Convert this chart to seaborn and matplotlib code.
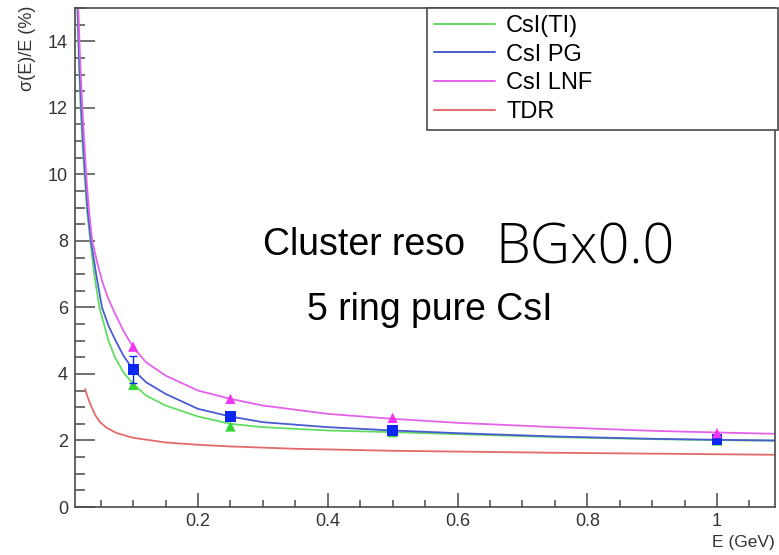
import numpy as np
import pandas as pd
import matplotlib
matplotlib.use("Agg")
import matplotlib.pyplot as plt
from matplotlib.ticker import MultipleLocator, FixedLocator
import seaborn as sns

# --- curve points (E in GeV, resolution in %) ---
lnf_e = [0.0155, 0.018, 0.021, 0.024, 0.028, 0.032, 0.037, 0.044, 0.052, 0.06, 0.07,
         0.085, 0.1, 0.12, 0.15, 0.2, 0.25, 0.3, 0.4, 0.5, 0.6, 0.75, 0.9, 1.0, 1.09]
lnf_v = [15.0, 13.6, 12.3, 11.2, 9.9, 8.9, 8.0, 7.4, 6.8, 6.35, 5.9,
         5.3, 4.8, 4.35, 3.95, 3.5, 3.25, 3.05, 2.8, 2.65, 2.53, 2.4, 2.29, 2.24, 2.2]

pg_e = [0.0145, 0.017, 0.02, 0.023, 0.026, 0.03, 0.035, 0.043, 0.052, 0.062, 0.073,
        0.085, 0.1, 0.12, 0.15, 0.2, 0.25, 0.3, 0.4, 0.5, 0.6, 0.75, 0.9, 1.0, 1.09]
pg_v = [15.0, 13.4, 12.0, 10.9, 10.0, 8.9, 8.0, 7.0, 6.0, 5.45, 5.0,
        4.55, 4.13, 3.75, 3.4, 2.95, 2.72, 2.55, 2.4, 2.3, 2.22, 2.12, 2.05, 2.02, 2.0]

tl_e = [0.014, 0.0165, 0.019, 0.022, 0.025, 0.029, 0.034, 0.04, 0.048, 0.062, 0.072,
        0.085, 0.1, 0.12, 0.15, 0.2, 0.25, 0.3, 0.4, 0.5, 0.6, 0.75, 0.9, 1.0, 1.09]
tl_v = [15.0, 13.3, 12.0, 10.9, 10.0, 8.9, 8.0, 7.0, 6.0, 5.0, 4.5,
        4.05, 3.7, 3.35, 3.05, 2.72, 2.5, 2.4, 2.3, 2.25, 2.19, 2.1, 2.04, 2.01, 1.99]

tdr_e = [0.026, 0.029, 0.033, 0.036, 0.042, 0.049, 0.06, 0.075, 0.1, 0.15, 0.2,
         0.25, 0.35, 0.5, 0.75, 1.09]
tdr_v = [3.55, 3.35, 3.15, 3.0, 2.75, 2.55, 2.37, 2.22, 2.08, 1.94, 1.87,
         1.82, 1.75, 1.69, 1.63, 1.57]

# measured points
pt_e = [0.1, 0.25, 0.5, 1.0]
tl_pts = [3.67, 2.42, 2.25, 2.0]
pg_pts = [4.13, 2.71, 2.29, 2.02]
pg_err = [0.4, 0.08, 0.06, 0.05]
lnf_pts = [4.82, 3.25, 2.68, 2.22]

x_ticks = [0.2, 0.4, 0.6, 0.8, 1.0]
x_labels = ["0.2", "0.4", "0.6", "0.8", "1"]

GREEN, GREEN_M = "#62dc62", "#33d633"
BLUE, BLUE_M = "#4a5ad2", "#0a28f0"
MAG, MAG_M = "#e462ea", "#f036f0"
RED = "#e46a6a"
EDGE = "#4a4a4a"

sns.set_style("white")
plt.rcParams["font.family"] = ["Liberation Sans", "DejaVu Sans"]
plt.rcParams["text.color"] = "black"

fig = plt.figure(figsize=(7.79, 5.55), dpi=100)
ax = fig.add_axes([75 / 779, 48 / 555, 700 / 779, 499 / 555])

curves = [(tl_e, tl_v, GREEN, "CsI(TI)"),
          (pg_e, pg_v, BLUE, "CsI PG"),
          (lnf_e, lnf_v, MAG, "CsI LNF"),
          (tdr_e, tdr_v, RED, "TDR")]
for xs, ys, col, name in curves:
    sns.lineplot(x=xs, y=ys, color=col, lw=1.3, sort=False, label=name, ax=ax)

# markers
sns.scatterplot(x=pt_e, y=tl_pts, marker="^", s=55, color=GREEN_M, edgecolor="none",
                legend=False, ax=ax, zorder=4)
ax.errorbar(pt_e, pg_pts, yerr=pg_err, fmt="none", ecolor=BLUE_M, elinewidth=1.0,
            capsize=3, zorder=5)
sns.scatterplot(x=pt_e, y=pg_pts, marker="s", s=60, color=BLUE_M, edgecolor="none",
                legend=False, ax=ax, zorder=5)
sns.scatterplot(x=pt_e, y=lnf_pts, marker="^", s=55, color=MAG_M, edgecolor="none",
                legend=False, ax=ax, zorder=6)

ax.set_xlim(0.0104, 1.0894)
ax.set_ylim(0, 15)
ax.xaxis.set_major_locator(FixedLocator(x_ticks))
ax.set_xticklabels(x_labels)
ax.xaxis.set_minor_locator(MultipleLocator(0.05))
ax.set_yticks(np.arange(0, 15, 2))
ax.yaxis.set_minor_locator(MultipleLocator(0.5))
ax.set_xlabel("")
ax.set_ylabel("")

ax.tick_params(which="both", bottom=True, left=True, top=False, right=False)
ax.tick_params(axis="x", which="major", direction="in", length=10, width=1.1,
               color=EDGE, labelsize=13, pad=4, labelcolor="#333333")
ax.tick_params(axis="x", which="minor", direction="in", length=5, width=1.1, color=EDGE)
ax.tick_params(axis="y", which="major", direction="in", length=14.5, width=1.1,
               color=EDGE, labelsize=13, pad=5, labelcolor="#333333")
ax.tick_params(axis="y", which="minor", direction="in", length=7, width=1.1, color=EDGE)
for sp in ax.spines.values():
    sp.set_color(EDGE)
    sp.set_linewidth(1.2)

# axis titles, ROOT style
fig.text(27 / 779, 1 - 6 / 555, "σ(E)/E (%)", rotation=90, ha="center", va="top",
         fontsize=13, color="#333333")
fig.text(775 / 779, 1 - 543 / 555, "E (GeV)", ha="right", va="center",
         fontsize=12.5, color="#333333")

# annotations
fig.text(263 / 779, 1 - 255 / 555, "Cluster reso", fontsize=27, va="baseline", ha="left")
fig.text(495 / 779, 1 - 263 / 555, "BGx0.0", fontsize=40, va="baseline", ha="left",
         family=["Open Sans", "DejaVu Sans"], fontweight="light")
fig.text(307 / 779, 1 - 320 / 555, "5 ring pure CsI", fontsize=27, va="baseline", ha="left")

leg = ax.legend(loc="upper left",
                bbox_to_anchor=(427 / 779, 1 - 8 / 555 - 0.5, 351 / 779, 0.5),
                bbox_transform=fig.transFigure, mode="expand", borderaxespad=0,
                fontsize=17, frameon=True, fancybox=False, framealpha=1,
                handlelength=2.6, handletextpad=0.45, labelspacing=0.28,
                borderpad=0.3)
leg.get_frame().set_edgecolor(EDGE)
leg.get_frame().set_linewidth(1.2)
for h in leg.get_lines():
    h.set_linewidth(1.4)

fig.savefig("out.png", dpi=100)
plt.close(fig)
